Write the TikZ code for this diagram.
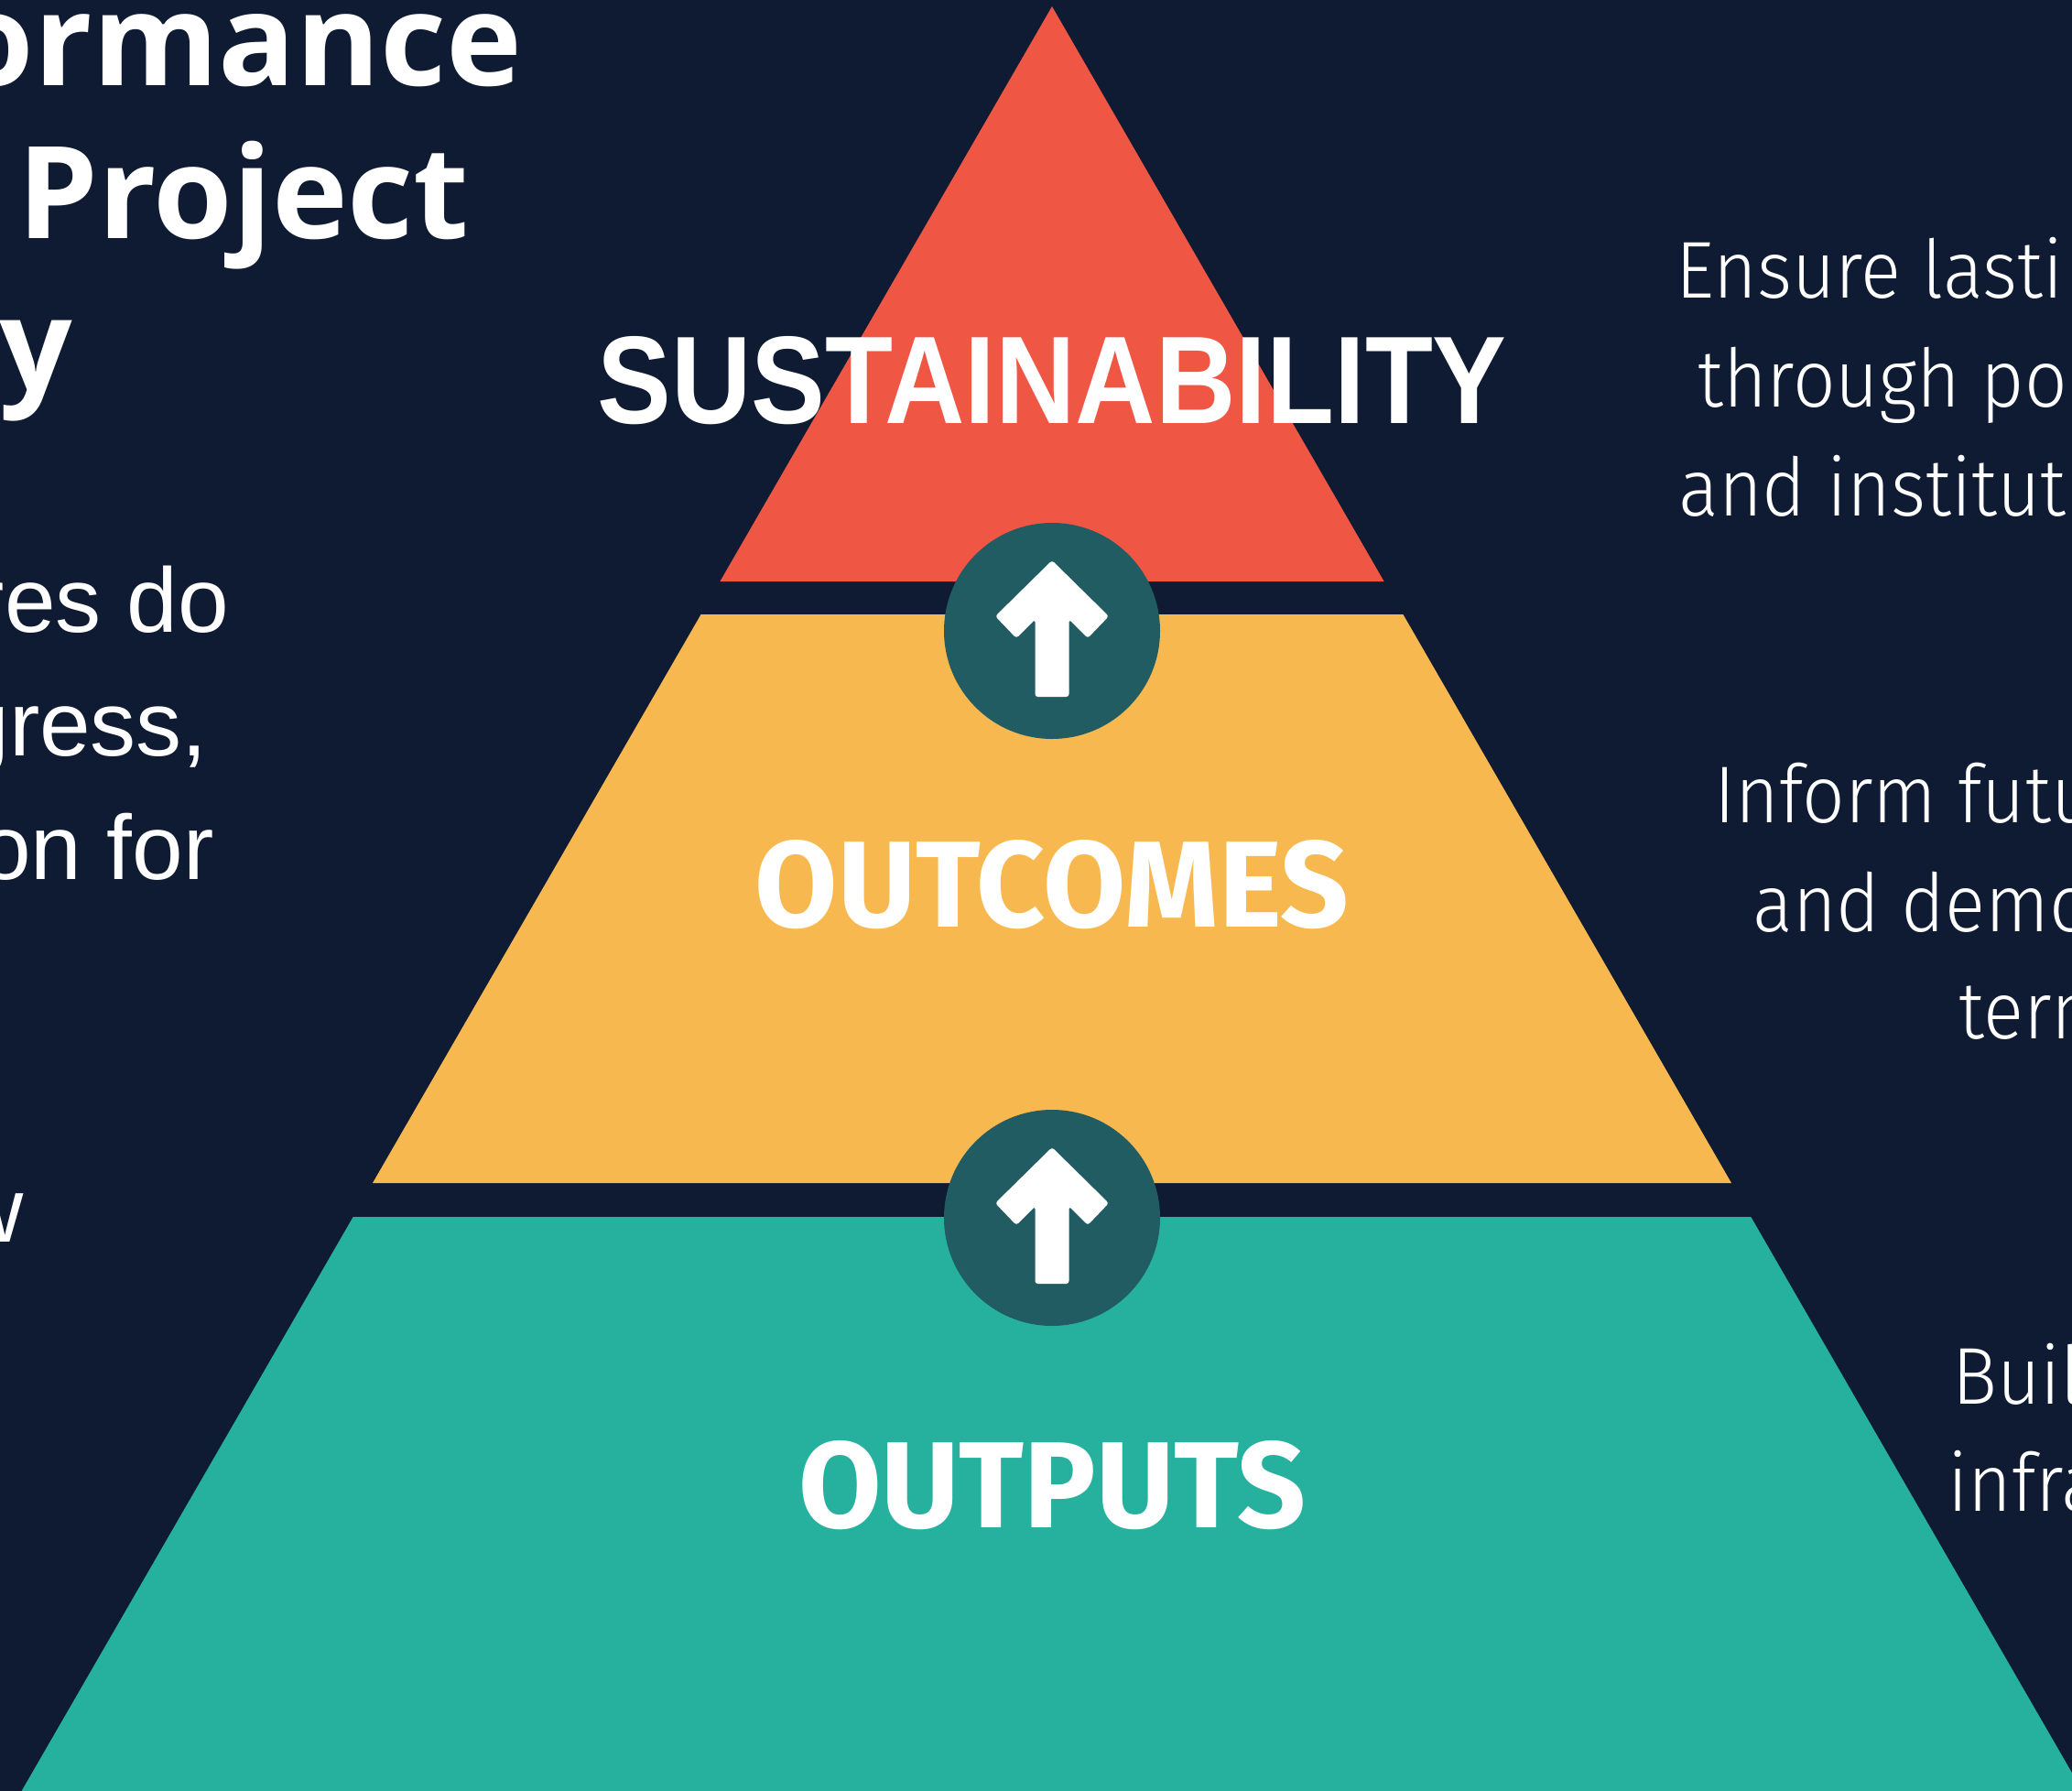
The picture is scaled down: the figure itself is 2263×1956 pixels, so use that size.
\documentclass[tikz,border=0pt]{standalone}
\usepackage{fontspec}
\usepackage{graphicx}
\setmainfont{Open Sans}
\newfontfamily\titlefont{Open Sans}
\newfontfamily\susfont{Liberation Sans}
\newfontfamily\lvlfont{Fira Sans}
\newfontfamily\rbodyfont{Fira Sans Light}[FakeStretch=0.93]
\newfontfamily\lbodyfont{Liberation Sans}
\definecolor{bgc}{HTML}{0E1B33}
\definecolor{redc}{HTML}{EF5744}
\definecolor{yelc}{HTML}{F7B84F}
\definecolor{tealc}{HTML}{26B19E}
\definecolor{circc}{HTML}{225C63}
\tikzset{
  ttl/.style={inner sep=0pt, text=white, font=\titlefont\bfseries\fontsize{140}{160}\selectfont},
  lbody/.style={inner sep=0pt, text=white, font=\lbodyfont\fontsize{100}{120}\selectfont},
  rbody/.style={inner sep=0pt, text=white, font=\rbodyfont\fontsize{88}{110}\selectfont},
  lvl/.style={inner sep=0pt, text=white},
  badge/.style={circle, fill=circc, minimum size=236pt, inner sep=0pt},
  uparrow/.style={fill=white, rounded corners=3pt}
}
\begin{document}
\begin{tikzpicture}[x=1pt, y=-1pt]
\useasboundingbox (0,0) rectangle (2263,1956);
\fill[bgc] (0,0) rectangle (2263,1956);
% pyramid layers
\fill[redc] (1149,7) -- (1511.6,635) -- (786.4,635) -- cycle;
\fill[yelc] (765.6,671) -- (1532.4,671) -- (1891,1292) -- (407,1292) -- cycle;
\fill[tealc] (385.7,1329) -- (1912.3,1329) -- (2274.4,1956) -- (23.6,1956) -- cycle;
% badges
\node[badge] (c1) at (1149,689) {};
\node[badge] (c2) at (1149,1330) {};
\foreach \c in {c1,c2}{
  \begin{scope}[shift={(\c.center)}]
    \fill[uparrow] (0,-77) -- (62,-16) -- (39,8) -- (18.5,-12.5) -- (18.5,72) -- (-18.5,72) -- (-18.5,-12.5) -- (-39,8) -- (-62,-16) -- cycle;
  \end{scope}
}
% level labels
\node[lvl, anchor=base] (sus) at (1149,462) {\resizebox{993pt}{95pt}{\susfont\bfseries SUSTAINABILITY}};
\node[lvl, anchor=base] (outc) at (1149,1012) {\resizebox{648pt}{95pt}{\lvlfont\bfseries OUTCOMES}};
\node[lvl, anchor=base] (outp) at (1149,1668) {\resizebox{554pt}{95pt}{\lvlfont\bfseries OUTPUTS}};
% title
\node[ttl, anchor=base east] (t1) at (570,94) {ormance};
\node[ttl, anchor=base west] (t2) at (19,260) {Project};
\node[ttl, anchor=base east] (t3) at (79,426) {y};
% left body
\node[lbody, anchor=base east] (l1) at (250,690) {res do};
\node[lbody, anchor=base east] (l2) at (227,825) {gress,};
\node[lbody, anchor=base east] (l3) at (234,960) {on for};
\node[lbody, anchor=base east] (l4) at (26,1356) {w};
% right body
\node[rbody, anchor=base west] (r1) at (1830,325) {Ensure lasti};
\node[rbody, anchor=base west] (r2) at (1854,444) {through pol};
\node[rbody, anchor=base west] (r3) at (1833,563) {and instituti};
\node[rbody, anchor=base west] (r4) at (1872,898) {Inform futu};
\node[rbody, anchor=base west] (r5) at (1914,1017) {and demo};
\node[rbody, anchor=base west] (r6) at (2139,1134) {term};
\node[rbody, anchor=base west] (r7) at (2132,1533) {Buil};
\node[rbody, anchor=base west] (r8) at (2127,1650) {infra};
\end{tikzpicture}
\end{document}
